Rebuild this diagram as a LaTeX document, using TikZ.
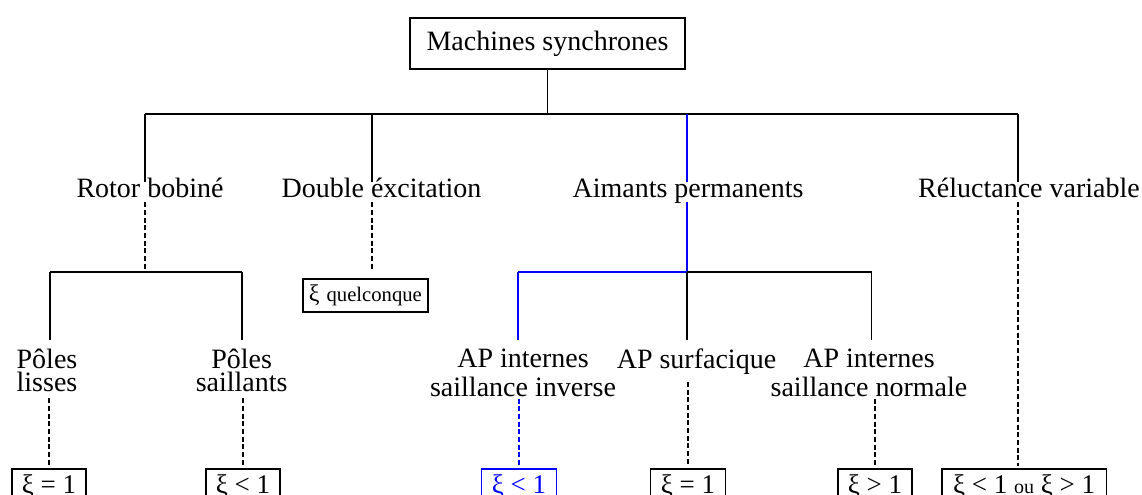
\documentclass[tikz,border=0pt]{standalone}
\usepackage{fontspec}
\setmainfont{Liberation Serif}
\definecolor{apblue}{RGB}{0,0,255}
\begin{document}
\begin{tikzpicture}[x=0.75pt,y=-0.75pt,
  every node/.style={inner sep=0pt, font=\fontsize{21}{21}\selectfont},
  conn/.style={line width=1.2pt},
  dconn/.style={line width=1.3pt, dash pattern=on 3.75pt off 2pt},
  rootbox/.style={draw, line width=1.4pt, minimum width=206pt, minimum height=38.5pt},
  lvlone/.style={anchor=base, text height=12pt, text depth=3pt},
  lvltwo/.style={anchor=north, align=center, font=\fontsize{21}{17.4}\selectfont},
  lvltwoap/.style={anchor=north, align=center, font=\fontsize{21}{21.3}\selectfont},
  leafbox/.style={draw, line width=1.2pt, anchor=north, minimum height=27pt,
    text height=14.25pt, text depth=4.5pt, font=\fontsize{20.25}{20.25}\selectfont}
]
\useasboundingbox (0,0) rectangle (1142,495);
\clip (0,0) rectangle (1142,495);

% root of the tree
\node[rootbox] (root) at (547.5,43.5) {Machines synchrones};

% main bar and its branch points
\coordinate (bR) at (145,114);
\coordinate (bD) at (372,114);
\coordinate (bA) at (687,114);
\coordinate (bV) at (1018,114);
\draw[conn] (bR) -- (bV);
\draw[conn] (root) -- (root |- bR);

% first level
\node[lvlone] (rb) at (150,198) {Rotor bobiné};
\node[lvlone] (de) at (381.5,198) {Double éxcitation};
\node[lvlone] (ap) at (688,198) {Aimants permanents};
\node[lvlone] (rv) at (1029,198) {Réluctance variable};

\draw[conn] (bR) -- (bR |- rb.north);
\draw[conn] (bD) -- (bD |- de.north);
\draw[conn, apblue] (bA) -- (bA |- ap.north);
\draw[conn] (bV) -- (bV |- rv.north);

% wound rotor branch
\coordinate (sR) at (145,272);
\coordinate (sRL) at (50,272);
\coordinate (sRR) at (242,272);
\draw[dconn] (bR |- rb.south) -- (sR);
\draw[conn] (sRL) -- (sRR);
\node[lvltwo] (pl) at (47,349) {Pôles\\lisses};
\node[lvltwo] (ps) at (241.7,349) {Pôles\\saillants};
\draw[conn, shorten >=6.75pt] (sRL) -- (sRL |- pl.north);
\draw[conn, shorten >=6.75pt] (sRR) -- (sRR |- ps.north);

% double excitation branch
\node[draw, line width=1.2pt, minimum width=94pt, minimum height=24.75pt] (xq)
  at (365.4,295.5) {{\fontsize{18}{18}\selectfont ξ} \fontsize{15.5}{15.5}\selectfont quelconque};
\draw[dconn, shorten >=6.75pt] (bD |- de.south) -- (bD |- xq.north);

% permanent magnet branch
\coordinate (sA) at (687,272);
\coordinate (sAL) at (518,272);
\coordinate (sAR) at (871.5,272);
\draw[conn, apblue] (bA |- ap.south) -- (sA);
\draw[conn, apblue] (sAL) -- (sA);
\draw[conn] (sA) -- (sAR);
\node[lvltwoap] (api) at (523,349) {AP internes\\saillance inverse};
\node[lvltwoap] (aps) at (696.5,349) {AP surfacique};
\node[lvltwoap] (apn) at (869,349) {AP internes\\saillance normale};
\draw[conn, apblue, shorten >=6.75pt] (sAL) -- (sAL |- api.north);
\draw[conn, shorten >=6.75pt] (sA) -- (sA |- aps.north);
\draw[conn, shorten >=6.75pt] (sAR) -- (sAR |- apn.north);

% leaves
\node[leafbox, minimum width=55.7pt] (b1) at (49,468) {ξ = 1};
\node[leafbox, minimum width=55.5pt] (b2) at (243,468) {ξ < 1};
\node[leafbox, minimum width=56.2pt, draw=apblue, text=apblue] (b3) at (519,468) {ξ < 1};
\node[leafbox, minimum width=56.2pt] (b4) at (688,468) {ξ = 1};
\node[leafbox, minimum width=55.5pt] (b5) at (875,468) {ξ > 1};
\node[leafbox, minimum width=123.7pt] (b6) at (1024.2,468) {ξ < 1 {\fontsize{15}{15}\selectfont ou} ξ > 1};

\draw[dconn, shorten <=4.5pt, shorten >=1.5pt] (b1.north |- pl.south) -- (b1.north);
\draw[dconn, shorten <=4.5pt, shorten >=1.5pt] (b2.north |- ps.south) -- (b2.north);
\draw[dconn, apblue, shorten <=1.5pt, shorten >=1.5pt] (b3.north |- api.south) -- (b3.north);
\draw[dconn, shorten <=5pt, shorten >=1.5pt] (b4.north |- aps.south) -- (b4.north);
\draw[dconn, shorten <=1.5pt, shorten >=1.5pt] (b5.north |- apn.south) -- (b5.north);
\draw[dconn, shorten >=1.5pt] (bV |- rv.south) -- (bV |- b6.north);
\end{tikzpicture}
\end{document}
